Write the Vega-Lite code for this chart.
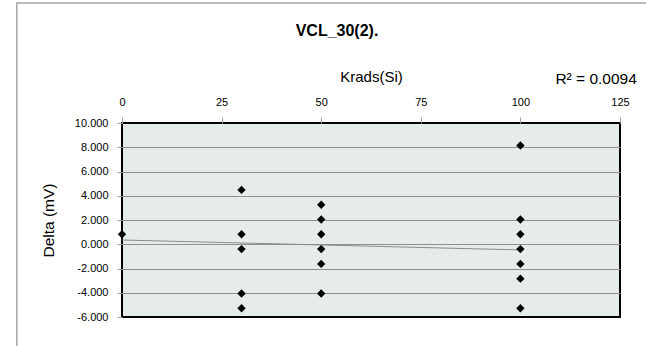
{
  "$schema": "https://vega.github.io/schema/vega-lite/v6.json",
  "width": 498,
  "height": 194,
  "autosize": "none",
  "padding": {"left": 122, "top": 123, "right": 26, "bottom": 29},
  "background": "white",
  "title": {"text": "VCL_30(2).", "font": "Liberation Sans", "fontSize": 16, "fontWeight": "bold", "color": "black", "anchor": "middle", "dx": -34, "offset": -37},
  "config": {"view": {"stroke": "black", "strokeWidth": 2, "fill": "#E6EBEB"}, "font": "Liberation Sans"},
  "datasets": {
    "points": [
      {"krads": 0, "delta": 0.82},
      {"krads": 30, "delta": 4.48},
      {"krads": 30, "delta": 0.82},
      {"krads": 30, "delta": -0.4},
      {"krads": 30, "delta": -4.06},
      {"krads": 30, "delta": -5.28},
      {"krads": 50, "delta": 3.26},
      {"krads": 50, "delta": 2.04},
      {"krads": 50, "delta": 0.82},
      {"krads": 50, "delta": -0.4},
      {"krads": 50, "delta": -1.62},
      {"krads": 50, "delta": -4.06},
      {"krads": 100, "delta": 8.14},
      {"krads": 100, "delta": 2.04},
      {"krads": 100, "delta": 0.82},
      {"krads": 100, "delta": -0.4},
      {"krads": 100, "delta": -1.62},
      {"krads": 100, "delta": -2.84},
      {"krads": 100, "delta": -5.28}
    ],
    "trend": [
      {"krads": 0, "delta": 0.35},
      {"krads": 100, "delta": -0.47}
    ],
    "note": [{"label": "R² = 0.0094"}]
  },
  "layer": [
    {
      "data": {"name": "trend"},
      "mark": {"type": "line", "color": "#8a8a8a", "strokeWidth": 1},
      "encoding": {
        "x": {"field": "krads", "type": "quantitative", "scale": {"domain": [0, 125], "nice": false},
          "axis": {"orient": "top", "values": [0, 25, 50, 75, 100, 125], "tickCount": 6, "title": "Krads(Si)", "titleFontSize": 15, "titleFontWeight": "normal", "titleColor": "black", "titlePadding": 12, "labelFontSize": 11, "labelColor": "black", "labelFont": "Liberation Sans", "titleFont": "Liberation Sans", "tickColor": "#a0a0a0", "tickSize": 6, "labelPadding": 10, "labelOverlap": false, "domain": false, "grid": false, "labelFlush": false}},
        "y": {"field": "delta", "type": "quantitative", "scale": {"domain": [-6, 10], "nice": false},
          "axis": {"values": [-6, -4, -2, 0, 2, 4, 6, 8, 10], "tickCount": 9, "labelOverlap": false, "labelExpr": "replace(format(datum.value, '.3f'), '\u2212', '-')", "title": "Delta (mV)", "titleFontSize": 15.5, "titleFontWeight": "normal", "titleColor": "black", "titlePadding": 18, "labelFontSize": 11, "labelColor": "black", "labelFont": "Liberation Sans", "titleFont": "Liberation Sans", "tickColor": "#a0a0a0", "tickSize": 5, "labelPadding": 9, "domain": false, "grid": true, "gridColor": "#909090", "gridWidth": 1, "gridOpacity": {"condition": {"test": "datum.value == -6 || datum.value == 10", "value": 0}, "value": 1}}}
      }
    },
    {
      "data": {"name": "points"},
      "mark": {"type": "point", "shape": "diamond", "filled": true, "color": "black", "size": 70, "opacity": 1},
      "encoding": {
        "x": {"field": "krads", "type": "quantitative"},
        "y": {"field": "delta", "type": "quantitative"}
      }
    },
    {
      "data": {"name": "note"},
      "mark": {"type": "text", "fontSize": 15.5, "color": "black", "align": "center", "baseline": "middle", "font": "Liberation Sans"},
      "encoding": {
        "x": {"datum": 119, "type": "quantitative"},
        "y": {"datum": 13.6, "type": "quantitative"},
        "text": {"field": "label"}
      }
    },
    {
      "data": {"name": "note"},
      "mark": {"type": "rect", "fill": null, "fillOpacity": 0, "stroke": "#a6a6a6", "strokeWidth": 1.5},
      "encoding": {
        "x": {"datum": -26.4, "type": "quantitative"},
        "x2": {"datum": 140},
        "y": {"datum": 19.9, "type": "quantitative"},
        "y2": {"datum": -10}
      }
    }
  ]
}
